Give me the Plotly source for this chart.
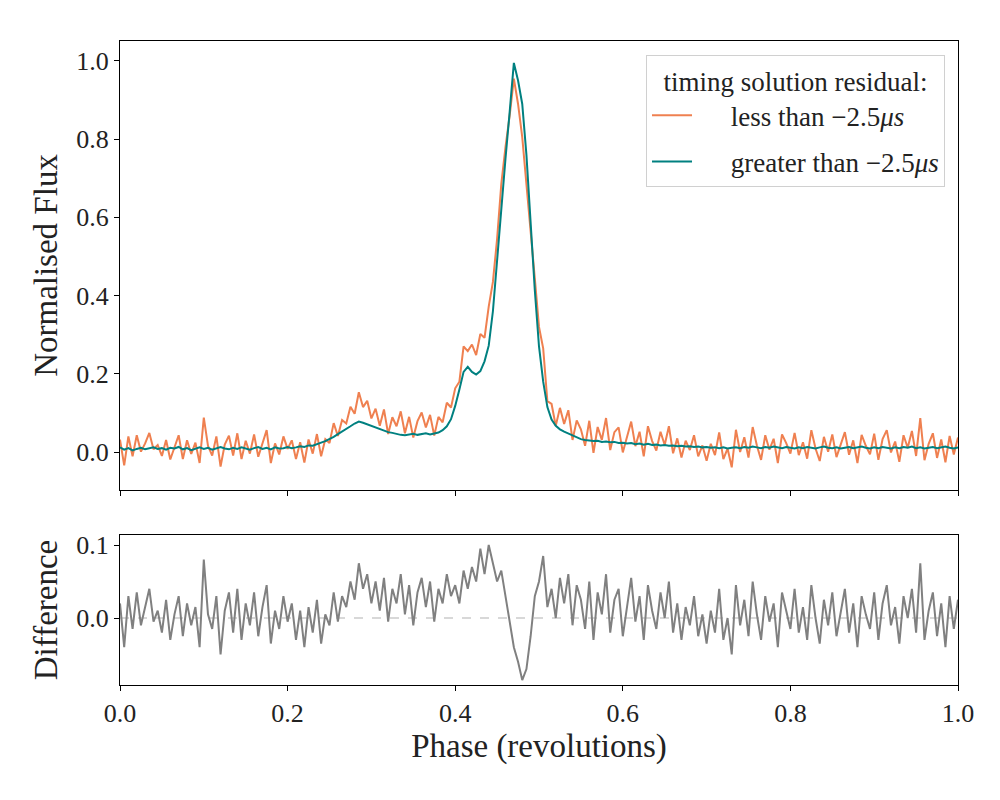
import numpy as np
import plotly.graph_objects as go
from plotly.subplots import make_subplots

# colours
orange = '#EF8050'
teal = '#008080'
grey = '#808080'

# phase bins (200 bins across one revolution)
phase = np.arange(201) / 200

# profile for TOAs with residual < -2.5 us
less_than = [
    0.032, -0.034, 0.040, -0.011, 0.043, 0.001, 0.022, 0.049, 0.007, 0.018,
    -0.010, 0.031, -0.019, 0.014, 0.043, -0.018, 0.030, -0.005, 0.024, -0.028,
    0.088, 0.016, -0.009, 0.040, -0.037, 0.019, 0.042, -0.009, 0.048, -0.018,
    0.029, -0.004, 0.045, -0.012, 0.023, 0.056, -0.028, 0.022, -0.006, 0.040,
    0.008, 0.030, -0.018, 0.025, -0.027, 0.032, -0.004, 0.046, -0.011, 0.033,
    0.023, 0.074, 0.041, 0.082, 0.073, 0.116, 0.098, 0.153, 0.115, 0.131,
    0.086, 0.111, 0.067, 0.109, 0.046, 0.089, 0.066, 0.104, 0.048, 0.090,
    0.037, 0.079, 0.101, 0.063, 0.095, 0.042, 0.090, 0.076, 0.126, 0.114,
    0.163, 0.180, 0.270, 0.258, 0.275, 0.248, 0.302, 0.292, 0.372, 0.435,
    0.545, 0.685, 0.780, 0.860, 0.955, 0.890, 0.805, 0.690, 0.560, 0.444,
    0.320, 0.265, 0.130, 0.123, 0.067, 0.113, 0.072, 0.107, 0.031, 0.081,
    0.058, 0.016, 0.080, -0.002, 0.064, 0.031, 0.087, 0.005, 0.051, 0.063,
    -0.001, 0.037, 0.078, 0.015, 0.052, -0.011, 0.066, 0.028, 0.004, 0.052,
    0.018, 0.066, -0.003, 0.035, -0.014, 0.029, 0.005, 0.043, -0.011, 0.017,
    -0.022, 0.021, -0.008, 0.050, -0.018, 0.009, -0.039, 0.057, 0.000, 0.038,
    -0.014, 0.064, 0.017, -0.020, 0.043, 0.006, 0.034, -0.028, 0.045, 0.023,
    -0.004, 0.049, -0.008, 0.025, -0.017, 0.056, 0.009, -0.023, 0.039, 0.001,
    0.045, -0.013, 0.019, 0.051, -0.007, 0.030, -0.028, 0.044, 0.016, -0.006,
    0.047, -0.020, 0.033, 0.056, -0.001, 0.027, -0.025, 0.043, 0.011, 0.054,
    -0.010, 0.087, -0.021, 0.021, 0.048, -0.015, 0.032, -0.026, 0.041, -0.006,
    0.037,
]

# profile for TOAs with residual > -2.5 us
greater_than = [
    0.012, 0.006, 0.010, 0.004, 0.008, 0.011, 0.007, 0.009, 0.012, 0.008,
    0.010, 0.006, 0.011, 0.009, 0.013, 0.007, 0.010, 0.005, 0.009, 0.012,
    0.008, 0.011, 0.006, 0.010, 0.013, 0.009, 0.007, 0.011, 0.008, 0.012,
    0.009, 0.006, 0.010, 0.013, 0.008, 0.011, 0.007, 0.012, 0.009, 0.010,
    0.013, 0.010, 0.012, 0.015, 0.013, 0.017, 0.016, 0.021, 0.024, 0.028,
    0.033, 0.039, 0.046, 0.052, 0.058, 0.066, 0.073, 0.078, 0.075, 0.071,
    0.066, 0.061, 0.057, 0.054, 0.051, 0.049, 0.046, 0.044, 0.043, 0.045,
    0.047, 0.044, 0.046, 0.048, 0.045, 0.047, 0.050, 0.056, 0.066, 0.084,
    0.118, 0.160, 0.205, 0.218, 0.205, 0.198, 0.207, 0.232, 0.272, 0.360,
    0.495, 0.620, 0.750, 0.870, 0.995, 0.950, 0.890, 0.760, 0.585, 0.414,
    0.270, 0.180, 0.115, 0.083, 0.067, 0.058, 0.052, 0.047, 0.041, 0.036,
    0.033, 0.031, 0.030, 0.028, 0.029, 0.026, 0.027, 0.025, 0.026, 0.023,
    0.024, 0.022, 0.023, 0.020, 0.022, 0.019, 0.021, 0.018, 0.019, 0.017,
    0.018, 0.016, 0.017, 0.015, 0.016, 0.014, 0.015, 0.013, 0.014, 0.012,
    0.013, 0.011, 0.012, 0.010, 0.012, 0.009, 0.011, 0.012, 0.010, 0.013,
    0.011, 0.014, 0.012, 0.010, 0.013, 0.011, 0.014, 0.012, 0.010, 0.013,
    0.011, 0.009, 0.012, 0.010, 0.013, 0.011, 0.009, 0.012, 0.014, 0.011,
    0.010, 0.012, 0.009, 0.011, 0.013, 0.010, 0.012, 0.014, 0.011, 0.009,
    0.012, 0.010, 0.013, 0.011, 0.009, 0.012, 0.010, 0.013, 0.011, 0.014,
    0.010, 0.012, 0.009, 0.011, 0.013, 0.010, 0.012, 0.014, 0.011, 0.009,
    0.012,
]

difference = np.array(less_than) - np.array(greater_than)

font_family = 'Liberation Serif, serif'
text_color = '#222222'
pad = '\u00a0' * 5  # widen the gap between legend line and label

fig = make_subplots(rows=2, cols=1, shared_xaxes=False)

fig.add_trace(go.Scatter(
    x=phase, y=less_than, mode='lines',
    name=pad + 'less than \u22122.5<i>\u03bcs</i>', legendgroup='less',
    line={'color': orange, 'width': 2},
), row=1, col=1)

fig.add_trace(go.Scatter(
    x=phase, y=greater_than, mode='lines',
    name=pad + 'greater than \u22122.5<i>\u03bcs</i>', legendgroup='greater',
    line={'color': teal, 'width': 2},
), row=1, col=1)

fig.add_trace(go.Scatter(
    x=phase, y=difference, mode='lines',
    showlegend=False,
    line={'color': grey, 'width': 2},
), row=2, col=1)

fig.add_hline(y=0, line={'color': '#cccccc', 'width': 1.5, 'dash': 'dash'},
              layer='below', row=2, col=1)

axis_style = {
    'showline': True, 'linecolor': 'black', 'linewidth': 1, 'mirror': True,
    'ticks': 'outside', 'ticklen': 5, 'tickcolor': 'black',
    'showgrid': False, 'zeroline': False,
    'tickfont': {'size': 26, 'family': font_family, 'color': text_color},
}

fig.update_xaxes(axis_style)
fig.update_yaxes(axis_style)

title_font = {'size': 33, 'family': font_family, 'color': text_color}

fig.update_layout(
    width=1000, height=800,
    margin={'l': 112, 'r': 50, 't': 33, 'b': 123},
    plot_bgcolor='white', paper_bgcolor='white',
    font={'family': font_family, 'color': text_color},
    xaxis={'domain': [0, 1], 'range': [0, 1], 'tickvals': [0, 0.2, 0.4, 0.6, 0.8, 1.0],
           'showticklabels': False},
    yaxis={'domain': [0.3028, 1.0], 'range': [-0.097, 1.051], 'tickvals': [0, 0.2, 0.4, 0.6, 0.8, 1.0],
           'tickformat': '.1f',
           'title': {'text': 'Normalised Flux', 'font': title_font, 'standoff': 8}},
    xaxis2={'domain': [0, 1], 'range': [0, 1], 'tickvals': [0, 0.2, 0.4, 0.6, 0.8, 1.0],
            'tickformat': '.1f',
            'title': {'text': 'Phase (revolutions)', 'font': title_font, 'standoff': 4}},
    yaxis2={'domain': [0, 0.2329], 'range': [-0.0918, 0.1137], 'tickvals': [0, 0.1],
            'tickformat': '.1f',
            'title': {'text': 'Difference', 'font': title_font, 'standoff': 8}},
    legend={
        'x': 0.9845, 'y': 0.978, 'xanchor': 'right', 'yanchor': 'top',
        'bgcolor': 'white', 'bordercolor': '#d0d0d0', 'borderwidth': 1,
        'font': {'size': 27, 'family': font_family, 'color': text_color},
        'title': {'text': 'timing solution residual:', 'side': 'top center',
                  'font': {'size': 27, 'family': font_family, 'color': text_color}},
        'tracegroupgap': 8,
        'itemwidth': 40,
    },
)

fig.write_html("out.html")
